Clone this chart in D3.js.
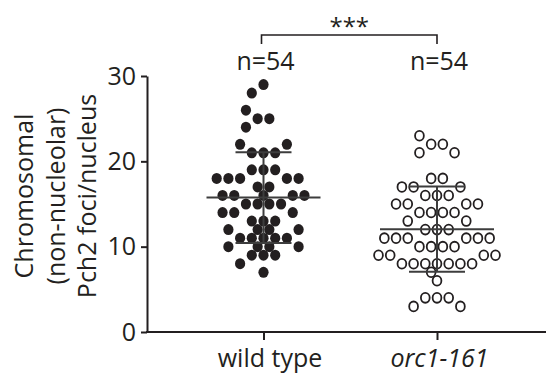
<!DOCTYPE html>
<html><head><meta charset="utf-8">
<script src="https://cdn.jsdelivr.net/npm/d3@7"></script>
<style>
body{margin:0;background:#fff}
svg{display:block}
text{font-family:"Open Sans",Lato,sans-serif;fill:#231f20}
</style>
</head><body>
<svg id="chart" width="546" height="376"></svg>
<script>
// ---------------- data ----------------
const categories = ["wild type", "orc1-161"];
const wildType = [29,28,26,25,25,24,22,22,21,21,21,19,19,19,
  18,18,18,18,18,17,17,16,16,16,16,16,15,15,15,15,14,14,14,
  13,13,13,12,12,12,12,11,11,11,11,11,10,10,10,10,9,9,9,8,7];
const orc1 = [23,22,22,21,21,18,18,17,17,17,16,16,16,15,15,15,15,
  14,14,14,14,13,13,12,12,12,11,11,11,11,11,11,10,10,10,10,
  9,9,9,9,8,8,8,8,8,8,8,7,6,4,4,4,3,3];
const nLabels = ["n=54", "n=54"];
const yTicks = [0, 10, 20, 30];
const significance = "***";
const yTitle = ["Chromosomal", "(non-nucleolar)", "Pch2 foci/nucleus"];

// ---------------- layout ----------------
const W = 546, H = 376;
const ink = "#231f20";
const font = "'Open Sans', Lato, sans-serif";
const svg = d3.select("#chart");
svg.append("rect").attr("width", W).attr("height", H).attr("fill", "#fff");

const axisLeftX = 147;
const y = d3.scaleLinear().domain([0, 30]).range([332, 76]);
const x = d3.scalePoint().domain(categories).range([263.5, 437]);
const unit = 11.7;       // horizontal spacing of swarm slots
const groups = [
  {name: categories[0], values: wildType, parity: 1, filled: true},
  {name: categories[1], values: orc1, parity: 0, filled: false}
];

// two-pass beeswarm: rows of one parity centred, the others fitted round them
function swarm(values, firstParity) {
  const rows = d3.group(values, v => v);
  const placed = new Map();
  const slotsOf = v => placed.get(v) || [];
  const keys = Array.from(rows.keys());
  const par = v => ((v % 2) + 2) % 2;
  keys.filter(v => par(v) === firstParity).forEach(v => {
    const n = rows.get(v).length;
    placed.set(v, d3.range(n).map(i => i - (n - 1) / 2));
  });
  keys.filter(v => par(v) !== firstParity).sort((a, b) => b - a).forEach(v => {
    const n = rows.get(v).length;
    const arr = [];
    placed.set(v, arr);
    for (let k = 0; k < n; k++) {
      const fits = (s, thr) =>
        arr.every(a => Math.abs(a - s) >= 1 - 1e-9) &&
        [v - 1, v + 1].every(w => slotsOf(w).every(a => Math.abs(a - s) >= thr - 1e-9));
      const find = thr => {
        const left = arr.filter(a => a < 0).length, right = arr.filter(a => a > 0).length;
        for (let m = 0; m < 60; m++) {
          const d = m * 0.5;
          const cands = d === 0 ? [0] : (left <= right ? [-d, d] : [d, -d]);
          for (const s of cands) if (fits(s, thr)) return s;
        }
        return 0;
      };
      const s1 = find(1), s2 = find(0.5);
      arr.push(Math.abs(s1) - Math.abs(s2) >= 3 ? s2 : s1);
    }
  });
  const out = [];
  placed.forEach((arr, v) => arr.forEach(s => out.push({value: v, slot: s})));
  return out;
}

// ---------------- axes ----------------
const yAxis = svg.append("g").attr("transform", `translate(${axisLeftX},0)`)
  .call(d3.axisLeft(y).tickValues(yTicks).tickSize(6).tickSizeOuter(0).tickPadding(5));
yAxis.select(".domain").attr("stroke", ink).attr("stroke-width", 2);
yAxis.selectAll(".tick line").attr("stroke", ink).attr("stroke-width", 2);
yAxis.selectAll(".tick text").attr("font-size", 25).attr("fill", ink)
  .style("font-family", font);

const xAxis = svg.append("g").attr("transform", `translate(0,${y(0)})`)
  .call(d3.axisBottom(x).tickSize(8).tickSizeOuter(0));
xAxis.select(".domain").remove();
xAxis.append("line").attr("x1", axisLeftX - 1).attr("x2", W).attr("stroke", ink).attr("stroke-width", 2);
xAxis.selectAll(".tick line").attr("stroke", ink).attr("stroke-width", 2);
xAxis.selectAll(".tick text").attr("font-size", 25).attr("fill", ink)
  .attr("y", 35).attr("dy", 0)
  .attr("dx", d => d === categories[0] ? 6 : 2)
  .style("font-family", font)
  .style("font-style", d => d === categories[1] ? "italic" : "normal");

// y title
const yt = svg.append("g").attr("transform", "translate(0,196) rotate(-90)");
yTitle.forEach((t, i) => {
  yt.append("text").attr("x", 0).attr("y", 33 + i * 31.5)
    .attr("text-anchor", "middle").attr("font-size", 25).text(t);
});

// ---------------- marks ----------------
groups.forEach((g, gi) => {
  const cx = x(g.name);
  const pts = swarm(g.values, g.parity);
  const mean = d3.mean(g.values), sd = d3.deviation(g.values);
  const gg = svg.append("g");
  gg.selectAll("ellipse").data(pts).join("ellipse")
    .attr("cx", d => cx + d.slot * unit)
    .attr("cy", d => y(d.value))
    .attr("rx", g.filled ? 5.1 : 4.4)
    .attr("ry", g.filled ? 5.5 : 4.9)
    .attr("fill", g.filled ? ink : "#fff")
    .attr("stroke", g.filled ? "none" : ink)
    .attr("stroke-width", g.filled ? 0 : 1.8);
  const lc = "#3d3d3d";
  const eb = svg.append("g").attr("stroke", lc).attr("stroke-width", 2).attr("fill", "none");
  eb.append("line").attr("x1", cx - 57).attr("x2", cx + 57).attr("y1", y(mean)).attr("y2", y(mean));
  eb.append("line").attr("x1", cx).attr("x2", cx).attr("y1", y(mean + sd)).attr("y2", y(mean - sd));
  [mean + sd, mean - sd].forEach(v =>
    eb.append("line").attr("x1", cx - 28).attr("x2", cx + 28).attr("y1", y(v)).attr("y2", y(v)));
  svg.append("text").attr("x", cx + 2).attr("y", 70).attr("text-anchor", "middle")
    .attr("font-size", 25).text(nLabels[gi]);
});

// significance bracket
const bx1 = x(categories[0]) - 2, bx2 = x(categories[1]);
svg.append("path").attr("d", `M${bx1},44V35H${bx2}V44`)
  .attr("fill", "none").attr("stroke", ink).attr("stroke-width", 1.6);
svg.append("text").attr("x", (bx1 + bx2) / 2).attr("y", 35).attr("text-anchor", "middle")
  .attr("font-size", 24).text(significance);
</script>
</body></html>
